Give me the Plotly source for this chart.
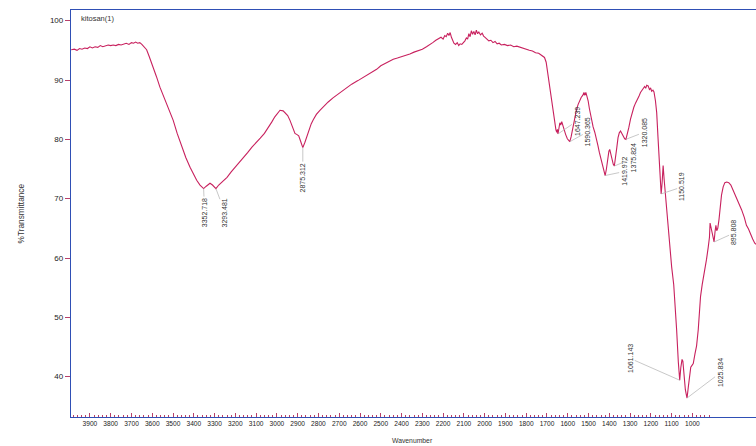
import plotly.graph_objects as go
import numpy as np

# ---- spectrum data ----
wavenumber = [
    3990, 3975, 3962, 3950, 3938, 3925, 3912, 3900, 3888, 3875, 3862, 3850, 3838, 3825, 3812, 3800,
    3788, 3775, 3762, 3750, 3738, 3725, 3712, 3700, 3690, 3680, 3670, 3660, 3650, 3640, 3627, 3615,
    3605, 3595, 3580, 3563, 3545, 3530, 3515, 3499, 3480, 3458, 3438, 3418, 3400, 3386, 3370, 3352.718,
    3340, 3322, 3310, 3293.481, 3280, 3260, 3240, 3220, 3200, 3180, 3160, 3140, 3120, 3100, 3080, 3060,
    3040, 3025, 3010, 2995, 2985, 2970, 2960, 2948, 2937, 2925, 2913, 2903, 2895, 2885, 2875.312, 2865,
    2855, 2845, 2835, 2825, 2810, 2793, 2775, 2753, 2730, 2700, 2670, 2640, 2610, 2580, 2550, 2520,
    2500, 2480, 2460, 2440, 2420, 2400, 2380, 2360, 2340, 2320, 2300, 2280, 2265, 2250, 2235, 2222,
    2210, 2200, 2192, 2185, 2178, 2172, 2166, 2160, 2154, 2148, 2140, 2132, 2125, 2118, 2110, 2102,
    2095, 2088, 2082, 2076, 2070, 2064, 2058, 2052, 2046, 2040, 2034, 2028, 2020, 2012, 2005, 1998,
    1990, 1980, 1970, 1960, 1950, 1940, 1930, 1920, 1905, 1890, 1875, 1860, 1845, 1830, 1815, 1800,
    1785, 1770, 1755, 1740, 1725, 1712, 1704, 1698, 1692, 1686, 1680, 1674, 1668, 1662, 1657, 1653,
    1650, 1647.239, 1643, 1638, 1634, 1629, 1624, 1618, 1610, 1602, 1596, 1590.365, 1584, 1578, 1572, 1565,
    1558, 1550, 1542, 1535, 1528, 1522, 1518, 1513, 1508, 1502, 1496, 1490, 1484, 1478, 1470, 1462,
    1455, 1448, 1440, 1432, 1425, 1419.972, 1414, 1408, 1402, 1398, 1393, 1387, 1381, 1375.824, 1370, 1364,
    1358, 1352, 1346, 1340, 1332, 1326, 1320.085, 1313, 1306, 1298, 1290, 1282, 1274, 1266, 1258, 1250,
    1243, 1236, 1230, 1225, 1220, 1213, 1207, 1201, 1196, 1190, 1185, 1178, 1172, 1166, 1160, 1155,
    1150.519, 1146, 1141, 1136, 1130, 1120, 1110, 1100, 1090, 1084, 1076, 1068, 1064, 1061.143, 1056, 1050,
    1046, 1040, 1034, 1029, 1025.834, 1020, 1014, 1008, 1002, 996, 988, 980, 972, 966, 961, 953,
    945, 938, 932, 924, 918, 915, 911, 906, 900, 895.808, 891, 887, 883, 878, 872, 866,
    860, 852, 844, 835, 825, 815, 805, 795, 785, 775, 763, 750, 740, 730, 720, 710,
    700, 694,
]
transmittance = [
    95.1, 95.2, 95.0, 95.3, 95.2, 95.4, 95.3, 95.6, 95.4, 95.6, 95.5, 95.8, 95.6, 95.7, 95.9, 95.8,
    95.9, 95.8, 96.0, 95.9, 96.1, 96.2, 96.0, 96.3, 96.2, 96.4, 96.2, 96.3, 96.0, 95.6, 95.1, 94.0,
    93.1, 92.2, 90.6, 88.8, 87.3, 86.0, 84.6, 83.2, 81.0, 78.7, 76.9, 75.3, 74.0, 73.1, 72.3, 71.7,
    72.1, 72.6, 72.3, 71.7, 72.3, 73.0, 73.6, 74.5, 75.3, 76.2, 77.0, 77.8, 78.7, 79.4, 80.2, 81.0,
    82.0, 82.9, 83.8, 84.5, 84.9, 84.8, 84.5, 84.0, 83.2, 82.0, 81.0, 80.8, 80.6, 79.6, 78.6, 79.5,
    80.6, 81.6, 82.6, 83.3, 84.2, 84.9, 85.6, 86.3, 87.0, 87.8, 88.6, 89.3, 89.9, 90.5, 91.1, 91.8,
    92.4, 92.8, 93.1, 93.5, 93.7, 93.9, 94.2, 94.4, 94.7, 94.9, 95.2, 95.6, 95.9, 96.3, 96.7, 97.0,
    97.2, 96.9, 97.5, 97.3, 97.9, 97.5, 98.0, 97.2, 96.6, 96.2, 96.0, 96.3, 95.8, 96.1, 96.0, 96.3,
    96.6, 97.1, 96.9, 97.8, 97.3, 98.3, 97.7, 98.2, 97.6, 98.4, 97.8, 98.1, 97.6, 97.9, 97.4, 97.2,
    96.9, 96.6, 96.7, 96.3, 96.5, 96.1, 96.2, 95.9, 96.0, 95.8, 95.9, 95.6, 95.7, 95.5, 95.4, 95.2,
    95.0, 94.9, 94.6, 94.5, 94.2, 93.8, 93.0, 91.5, 89.8, 88.2, 86.8, 85.4, 84.0, 82.6, 81.6, 81.2,
    81.7, 80.9, 82.0, 82.8, 82.4, 83.0, 82.4, 81.6, 80.8, 80.1, 79.8, 79.6, 80.4, 81.5, 82.8, 84.0,
    85.0, 85.9, 86.6, 87.1, 87.4, 87.9, 87.4, 87.9, 87.3, 86.5, 85.2, 84.0, 83.0, 82.1, 81.2, 80.2,
    79.0, 77.8, 76.6, 75.3, 74.4, 73.9, 75.0, 76.8, 78.0, 78.3, 77.6, 76.5, 75.8, 75.5, 76.7, 78.6,
    80.3, 81.1, 81.4, 81.0, 80.4, 80.1, 80.0, 80.8, 82.0, 83.4, 84.6, 85.4, 86.1, 86.6, 87.2, 87.9,
    88.3, 88.6, 88.9, 88.6, 89.1, 89.0, 88.4, 88.6, 88.1, 88.3, 88.0, 86.5, 84.5, 80.5, 76.0, 72.0,
    70.8, 72.6, 75.6, 73.2, 70.6, 66.0, 62.5, 58.5, 55.5, 52.5, 47.9, 42.5, 40.5, 39.4, 41.5, 42.9,
    42.6, 40.0, 37.8, 36.9, 36.4, 38.2, 40.5, 41.6, 41.9, 42.2, 43.8, 45.2, 47.9, 50.8, 53.5, 55.5,
    57.0, 58.6, 59.8, 61.8, 63.5, 65.9, 65.2, 64.0, 63.0, 62.7, 64.5, 65.5, 64.6, 65.0, 66.5, 68.6,
    70.6, 72.0, 72.7, 72.8, 72.7, 72.3, 71.5, 70.8, 70.0, 69.1, 68.1, 66.8, 65.5, 64.9, 63.9, 63.2,
    62.5, 62.3,
]

peak_labels = ["3352.718", "3293.481", "2875.312", "1647.239", "1590.365", "1419.972",
               "1375.824", "1320.085", "1150.519", "1061.143", "1025.834", "895.808"]
peak_wn = [3352.718, 3293.481, 2875.312, 1647.239, 1590.365, 1419.972,
           1375.824, 1320.085, 1150.519, 1061.143, 1025.834, 895.808]

x_tick_vals = [3900, 3800, 3700, 3600, 3500, 3400, 3300, 3200, 3100, 3000, 2900, 2800, 2700, 2600, 2500,
               2400, 2300, 2200, 2100, 2000, 1900, 1800, 1700, 1600, 1500, 1400, 1300, 1200, 1100, 1000]
x_tick_text = [str(v) for v in x_tick_vals]
y_tick_vals = [40, 50, 60, 70, 80, 90, 100]

# label offsets (pixels) from each band to its rotated label
label_offsets = [(1, 24), (9, 24), (0, 30), (19, -13), (18, -10), (19, -4),
                 (19, -8), (18, -7), (21, -7), (-50, -22), (33, -25), (20, -9)]

line_color = "#c8215e"
axis_blue = "#2f4fb5"
tick_pink = "#b8406a"
font_family = "Liberation Sans, Arial, sans-serif"

fig = go.Figure()
fig.add_trace(go.Scatter(x=wavenumber, y=transmittance, mode="lines",
                         line=dict(color=line_color, width=1.1), showlegend=False,
                         hoverinfo="skip"))

annotations = []
wn_arr = np.array(wavenumber)
t_arr = np.array(transmittance)
for lab, w, (dx, dy) in zip(peak_labels, peak_wn, label_offsets):
    t_val = float(t_arr[np.argmin(np.abs(wn_arr - w))])
    annotations.append(dict(x=w, y=t_val, xref="x", yref="y", text=lab, textangle=-90,
                            showarrow=True, arrowhead=0, arrowwidth=0.7, arrowcolor="#b0b0b0",
                            ax=dx, ay=dy, font=dict(size=7, color="#333333", family=font_family)))

annotations.append(dict(x=0.012, y=0.978, xref="paper", yref="paper", text="kitosan(1)",
                        showarrow=False, xanchor="left", yanchor="middle",
                        font=dict(size=7.5, color="#333333", family=font_family)))
annotations.append(dict(x=-51 / 685, y=0.5, xref="paper", yref="paper", text="%Transmittance",
                        textangle=-90, showarrow=False, xanchor="center", yanchor="middle",
                        font=dict(size=8.3, color="#333333", family=font_family)))
annotations.append(dict(x=(412 - 71) / 685, y=-23 / 407, xref="paper", yref="paper", text="Wavenumber",
                        showarrow=False, xanchor="center", yanchor="middle",
                        font=dict(size=6.8, color="#333333", family=font_family)))

minor_vals = [v for v in range(3980, 915, -20) if v % 100 != 0]

fig.update_layout(
    width=756, height=446,
    margin=dict(l=71, r=0, t=10, b=29),
    paper_bgcolor="white", plot_bgcolor="white",
    annotations=annotations,
    xaxis=dict(range=[3991, 694], tickmode="array", tickvals=x_tick_vals, ticktext=x_tick_text,
               ticks="inside", ticklen=4, tickcolor=tick_pink, tickwidth=1,
               minor=dict(tickmode="array", tickvals=minor_vals, ticks="inside", ticklen=2,
                          tickcolor=tick_pink, showgrid=False),
               showline=True, linecolor=axis_blue, linewidth=1.3, mirror=True,
               showgrid=False, zeroline=False,
               tickfont=dict(size=6.6, color="#222222", family=font_family)),
    yaxis=dict(range=[33.2, 101.8], tickmode="array", tickvals=y_tick_vals,
               ticks="outside", ticklen=5, tickcolor=tick_pink, tickwidth=1,
               showline=True, linecolor=axis_blue, linewidth=1.3,
               showgrid=False, zeroline=False,
               tickfont=dict(size=8, color="#222222", family=font_family)),
)

fig.write_html("out.html", config={"displayModeBar": False},
               post_script="document.body.style.margin='0';document.body.style.overflow='hidden';")
